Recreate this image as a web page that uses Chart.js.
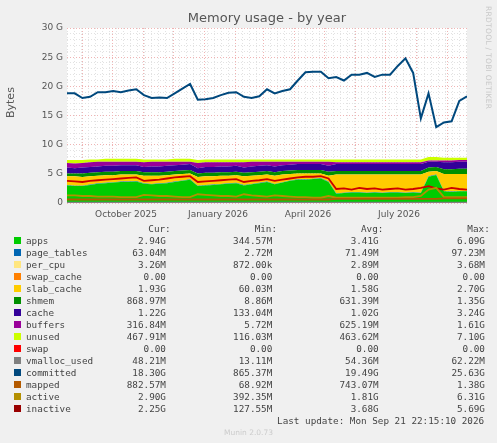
<!DOCTYPE html>
<html><head><meta charset="utf-8">
<script src="https://cdn.jsdelivr.net/npm/chart.js@4"></script>
<style>
body{margin:0;background:#f0f0f0;width:497px;height:443px;overflow:hidden;font-family:"DejaVu Sans",sans-serif;position:relative}
#wrap{position:absolute;left:0;top:0;width:497px;height:225px}
#title{position:absolute;top:10px;left:0;width:534px;text-align:center;font-size:13px;color:#555}
#ylab{position:absolute;left:4px;top:118px;transform:rotate(-90deg);transform-origin:left top;font-size:11px;color:#555}
#rrd{position:absolute;left:484px;top:6px;writing-mode:vertical-rl;font-size:7.5px;color:#c8c8c8;letter-spacing:0.3px}
#leg{position:absolute;left:14px;top:223px;font-family:"DejaVu Sans Mono",monospace;font-size:9.3px;color:#444;line-height:12px;white-space:pre}
.sq{display:inline-block;width:7px;height:7px;margin-right:5px;vertical-align:0px}
#munin{position:absolute;top:428px;left:0;width:497px;text-align:center;font-size:7.5px;color:#ccc}
</style></head><body>
<div id="wrap"><canvas id="c" width="497" height="225"></canvas></div>
<div id="title">Memory usage - by year</div>
<div id="ylab">Bytes</div>
<div id="rrd">RRDTOOL / TOBI OETIKER</div>
<div id="leg"></div>
<div id="munin">Munin 2.0.73</div>
<script>
// days since Aug 17 2025, weekly samples
const days = Array.from({length:53},(_,i)=>i*400/52);
const apps = [3.0,2.9,2.9,3.1,3.3,3.4,3.5,3.6,3.6,3.7,3.3,3.2,3.3,3.4,3.6,3.8,4.0,2.9,3.0,3.1,3.2,3.3,3.4,3.0,3.2,3.4,3.6,3.2,3.5,3.8,4.0,4.0,4.1,4.2,3.6,1.6,1.7,1.8,1.8,1.7,1.8,1.7,1.8,1.8,1.7,1.8,1.7,4.5,4.8,2.0,1.9,2.0,2.0];
const page_tables = Array(53).fill(0.07);
const per_cpu = Array(53).fill(0.003);
const swap_cache = Array(53).fill(0);
const slab_cache = [1.5,1.6,1.5,1.4,1.3,1.3,1.2,1.2,1.2,1.1,1.3,1.4,1.3,1.3,1.2,1.1,1.0,1.5,1.5,1.4,1.4,1.3,1.3,1.5,1.4,1.3,1.2,1.4,1.3,1.1,1.0,1.0,0.9,0.8,1.0,3.2,3.1,3.0,3.0,3.1,3.0,3.1,3.0,3.0,3.1,3.0,3.1,0.8,0.6,2.9,3.0,2.9,2.9];
const shmem = [0.5,0.5,0.6,0.6,0.6,0.6,0.6,0.6,0.6,0.6,0.6,0.6,0.6,0.6,0.6,0.6,0.6,0.6,0.6,0.6,0.6,0.6,0.6,0.6,0.6,0.6,0.6,0.6,0.6,0.6,0.6,0.6,0.6,0.6,0.7,0.6,0.6,0.6,0.6,0.6,0.6,0.6,0.6,0.6,0.6,0.6,0.6,0.7,0.7,0.8,0.8,0.9,0.9];
const cache = [1.0,0.9,1.0,1.0,1.0,1.0,1.0,1.0,1.0,1.0,0.9,1.0,1.0,1.0,1.0,1.0,1.0,0.9,1.0,1.0,1.0,1.0,1.0,0.9,1.0,1.0,1.0,1.0,1.0,1.0,1.0,1.0,1.0,1.0,1.0,1.2,1.2,1.2,1.2,1.2,1.2,1.2,1.2,1.2,1.2,1.2,1.2,1.0,0.9,1.2,1.2,1.2,1.2];
const buffers = [0.8,0.8,0.8,0.8,0.8,0.7,0.7,0.6,0.6,0.6,0.8,0.8,0.8,0.7,0.6,0.5,0.4,0.9,0.8,0.8,0.7,0.7,0.6,0.9,0.8,0.7,0.6,0.8,0.6,0.5,0.4,0.4,0.4,0.4,0.7,0.3,0.3,0.3,0.3,0.3,0.3,0.3,0.3,0.3,0.3,0.3,0.3,0.2,0.2,0.3,0.3,0.3,0.3];
const unused = [0.5,0.6,0.5,0.5,0.4,0.5,0.5,0.5,0.5,0.5,0.5,0.4,0.4,0.4,0.5,0.5,0.5,0.5,0.5,0.5,0.5,0.5,0.5,0.5,0.4,0.4,0.4,0.4,0.4,0.4,0.4,0.4,0.4,0.4,0.4,0.5,0.5,0.5,0.5,0.5,0.5,0.5,0.5,0.5,0.5,0.5,0.5,0.6,0.6,0.5,0.5,0.4,0.4];
const swap = Array(53).fill(0);
const vmalloc_used = Array(53).fill(0.05);
const committed = [18.8,18.8,18.0,18.2,19.0,19.0,19.2,19.0,19.3,19.5,18.5,18.0,18.1,18.0,18.8,19.6,20.4,17.7,17.8,18.0,18.5,18.9,19.0,18.2,18.0,18.3,19.5,18.8,19.2,19.5,21.0,22.4,22.5,22.5,21.4,21.6,21.0,22.0,22.0,22.3,21.6,22.0,22.0,23.5,24.8,22.3,14.5,18.8,13.0,13.8,14.0,17.5,18.3];
const mapped = [0.6,0.6,0.6,0.6,0.6,0.6,0.6,0.6,0.6,0.6,0.6,0.6,0.6,0.6,0.6,0.6,0.6,0.6,0.6,0.6,0.6,0.6,0.6,0.6,0.6,0.6,0.6,0.6,0.6,0.6,0.6,0.6,0.6,0.6,0.6,0.7,0.7,0.7,0.7,0.7,0.7,0.7,0.7,0.7,0.7,0.7,0.7,0.7,0.7,0.8,0.8,0.8,0.8];
const active = [1.3,1.3,1.2,1.2,1.1,1.1,1.1,1.0,1.0,1.0,1.4,1.3,1.2,1.2,1.1,1.0,1.0,1.5,1.4,1.3,1.2,1.2,1.1,1.5,1.3,1.2,1.1,1.3,1.2,1.1,1.0,1.0,0.9,0.9,1.2,0.9,0.9,0.9,0.9,0.9,0.9,0.9,0.9,0.9,1.0,1.0,1.2,2.3,2.6,1.0,1.0,1.0,1.0];
const inactive = [3.8,3.7,3.6,3.8,3.9,4.0,4.1,4.2,4.3,4.4,3.8,3.9,4.0,4.2,4.4,4.5,4.6,3.6,3.7,3.8,3.9,4.0,4.1,3.6,3.8,3.9,4.1,3.8,4.0,4.2,4.4,4.5,4.5,4.6,4.2,2.4,2.5,2.3,2.6,2.4,2.5,2.3,2.4,2.5,2.3,2.4,2.6,2.9,2.5,2.3,2.6,2.4,2.3];
const monthStarts=[15,45,76,106,137,168,196,227,257,288,318,349,380];
const monthLabels={59:"October 2025",151:"January 2026",241:"April 2026",332:"July 2026"};

const legendRows=[
["apps","#00CC00","2.94G","344.57M","3.41G","6.09G"],
["page_tables","#0066B3","63.04M","2.72M","71.49M","97.23M"],
["per_cpu","#FFE680","3.26M","872.00k","2.89M","3.68M"],
["swap_cache","#FF8000","0.00","0.00","0.00","0.00"],
["slab_cache","#FFCC00","1.93G","60.03M","1.58G","2.70G"],
["shmem","#008F00","868.97M","8.86M","631.39M","1.35G"],
["cache","#330099","1.22G","133.04M","1.02G","3.24G"],
["buffers","#990099","316.84M","5.72M","625.19M","1.61G"],
["unused","#CCFF00","467.91M","116.03M","463.62M","7.10G"],
["swap","#FF0000","0.00","0.00","0.00","0.00"],
["vmalloc_used","#808080","48.21M","13.11M","54.36M","62.22M"],
["committed","#00487D","18.30G","865.37M","19.49G","25.63G"],
["mapped","#B35A00","882.57M","68.92M","743.07M","1.38G"],
["active","#B38F00","2.90G","392.35M","1.81G","6.31G"],
["inactive","#990000","2.25G","127.55M","3.68G","5.69G"]];
let h=' '.repeat(24)+'Cur:'+' '.repeat(15)+'Min:'+' '.repeat(15)+'Avg:'+' '.repeat(15)+'Max:\n';
for(const r of legendRows){
 h+='<span class="sq" style="background:'+r[1]+'"></span>'+r[0].padEnd(12)+r[2].padStart(13)+r[3].padStart(19)+r[4].padStart(19)+r[5].padStart(19)+'\n';
}
h+=' '.repeat(47)+'Last update: Mon Sep 21 22:15:10 2026';
document.getElementById('leg').innerHTML=h;

const pts=a=>a.map((v,i)=>({x:days[i],y:v}));
const stackDefs=[["apps",apps,"#00CC00"],["page_tables",page_tables,"#0066B3"],["per_cpu",per_cpu,"#FFE680"],["swap_cache",swap_cache,"#FF8000"],["slab_cache",slab_cache,"#FFCC00"],["shmem",shmem,"#008F00"],["cache",cache,"#330099"],["buffers",buffers,"#990099"],["unused",unused,"#CCFF00"],["swap",swap,"#FF0000"]];
const lineDefs=[["vmalloc_used",vmalloc_used,"#808080"],["committed",committed,"#00487D"],["mapped",mapped,"#B35A00"],["active",active,"#B38F00"],["inactive",inactive,"#CC0000"]];
const datasets=[];
stackDefs.forEach(([n,a,c],k)=>datasets.push({label:n,data:pts(a),backgroundColor:c,borderWidth:0,fill:k===0?'origin':'-1',stack:'s',yAxisID:'y',pointRadius:0,order:2}));
lineDefs.forEach(([n,a,c])=>datasets.push({label:n,data:pts(a),borderColor:c,borderWidth:n==='committed'?2:1.8,fill:false,stack:n,pointRadius:0,order:1}));

const bg={id:'bg',beforeDraw(ch){const a=ch.chartArea,x=ch.ctx;x.save();x.fillStyle='#fff';x.fillRect(a.left,a.top,a.right-a.left,a.bottom-a.top);x.restore();}};
new Chart(document.getElementById('c'),{type:'line',data:{datasets},plugins:[bg],
options:{responsive:false,animation:false,layout:{padding:{top:28,right:30,left:0,bottom:0}},
plugins:{legend:{display:false},tooltip:{enabled:false}},
scales:{
x:{type:'linear',min:0,max:400,border:{display:false,dash:[1,2]},
 afterBuildTicks(ax){const t=[];for(let d=0;d<=400;d+=7)t.push({value:d});monthStarts.forEach(v=>t.push({value:v}));Object.keys(monthLabels).forEach(v=>t.push({value:+v}));ax.ticks=t;},
 afterFit(ax){ax.height=22;},
 grid:{drawTicks:false,lineWidth:1,color:c=>{const v=c.tick&&c.tick.value;if(monthStarts.includes(v))return '#f0b4b4';if(monthLabels[v])return 'rgba(0,0,0,0)';return '#e2e2e2';}},
 ticks:{autoSkip:false,maxRotation:0,padding:6,color:'#555',font:{family:'DejaVu Sans',size:9},callback:v=>monthLabels[v]||''}},
y:{stacked:true,min:0,max:30,border:{display:false,dash:[1,2]},
 afterFit(ax){ax.width=67;},
 ticks:{stepSize:1,autoSkip:false,color:'#555',font:{family:'DejaVu Sans',size:9},padding:4,callback:v=>v%5===0?(v===0?'0':v+' G'):''},
 grid:{drawTicks:false,color:c=>c.tick&&c.tick.value%5===0?'#f0b4b4':'#e2e2e2'}}
}}});
</script></body></html>
